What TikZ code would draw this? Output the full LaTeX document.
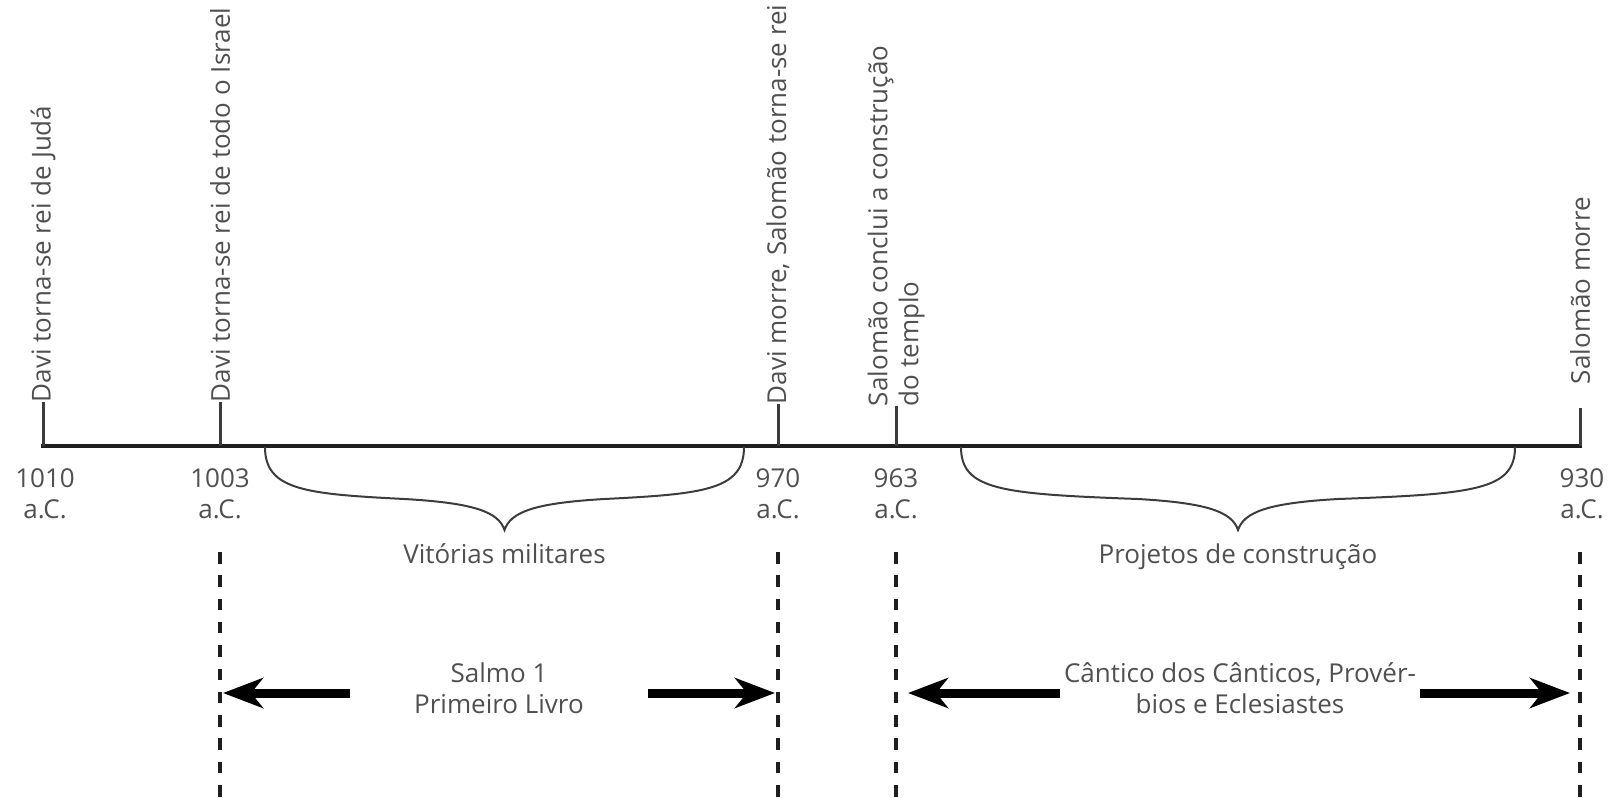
\documentclass[tikz,border=0pt]{standalone}
\usepackage{fontspec}
\setmainfont{Open Sans}
\usetikzlibrary{arrows.meta}

\definecolor{textgray}{HTML}{505050}
\definecolor{linedark}{HTML}{1E1E1E}
\definecolor{tickgray}{HTML}{3C3C3C}

\tikzset{
	event/.style={rotate=90, anchor=west, align=left},
	year/.style={anchor=base, align=center},
	tickline/.style={draw=tickgray, line width=1.5pt},
	bracket/.style={draw=tickgray, line width=1pt},
	period/.style={draw=linedark, line width=2pt, dash pattern=on 5.75pt off 5.9pt},
	bigarrow/.style={draw=black, line width=4.5pt, -{Stealth[length=20pt, width=15pt, inset=6pt]}}
}

\begin{document}
\begin{tikzpicture}[x=0.5pt, y=-0.5pt, font=\fontsize{13}{15.5}\selectfont, every node/.style={text=textgray, inner sep=0pt, outer sep=0pt}]
	\useasboundingbox (0, 0) rectangle (1609, 797);

	% Linha do tempo
	\coordinate (t1010) at (43, 446);
	\coordinate (t1003) at (220, 446);
	\coordinate (t970) at (778, 446);
	\coordinate (t963) at (896, 446);
	\coordinate (t930) at (1580, 446);
	\draw[draw=linedark, line width=2pt, line cap=rect] (t1010) -- (t930);

	% Marcas e eventos
	\draw[tickline] (t1010) -- ++(0, -44) node[event] (e1010) {Davi torna-se rei de Judá};
	\draw[tickline] (t1003) -- ++(0, -44) node[event] (e1003) {Davi torna-se rei de todo o Israel};
	\draw[tickline] (t970) -- ++(0, -42) node[event] (e970) {Davi morre, Salomão torna-se rei};
	\draw[tickline] (t963) -- ++(0, -40) node[event] (e963) {Salomão conclui a construção\\do templo};
	\draw[tickline] (t930) -- ++(0, -38) coordinate (c930);
	\node[event] (e930) at ([yshift=12pt]c930) {Salomão morre};

	% Anos
	\node[year] (y1010) at (45, 518) {1010\\a.C.};
	\node[year] (y1003) at (220, 518) {1003\\a.C.};
	\node[year] (y970) at (778, 518) {970\\a.C.};
	\node[year] (y963) at (896, 518) {963\\a.C.};
	\node[year] (y930) at (1582, 518) {930\\a.C.};

	% Chaves
	\foreach \l/\r/\txt/\nm in {265/744/Vitórias militares/vit, 961/1515/Projetos de construção/proj} {
		\pgfmathsetmacro{\m}{(\l+\r)/2}
		\draw[bracket] (\l, 447) .. controls (\l, 490) and (\l+40, 494) .. (\m-100, 499) .. controls (\m-30, 503) and (\m-6, 512) .. (\m, 530) coordinate (tip\nm) .. controls (\m+6, 512) and (\m+30, 503) .. (\m+100, 499) .. controls (\r-40, 494) and (\r, 490) .. (\r, 447);
		\node[anchor=base] (\nm) at (\m, 563) {\txt};
	}

	% Linhas tracejadas
	\foreach \t in {t1003, t970, t963, t930}
		\draw[period] (\t) ++(0, 106) -- ++(0, 251);

	% Livros
	\node[year] (salmo) at (499, 713) {Salmo 1\\Primeiro Livro};
	\node[year] (cantico) at (1240, 713) {Cântico dos Cânticos, Provér-\\bios e Eclesiastes};
	\coordinate (s1) at (350, 693);
	\coordinate (s2) at (648, 693);
	\coordinate (c1) at (1060, 693);
	\coordinate (c2) at (1420, 693);
	\draw[bigarrow, shorten >=1.5pt] (s1) -- (s1 -| t1003);
	\draw[bigarrow, shorten >=1.5pt] (s2) -- (s2 -| t970);
	\draw[bigarrow, shorten >=6pt] (c1) -- (c1 -| t963);
	\draw[bigarrow, shorten >=5pt] (c2) -- (c2 -| t930);
\end{tikzpicture}
\end{document}
